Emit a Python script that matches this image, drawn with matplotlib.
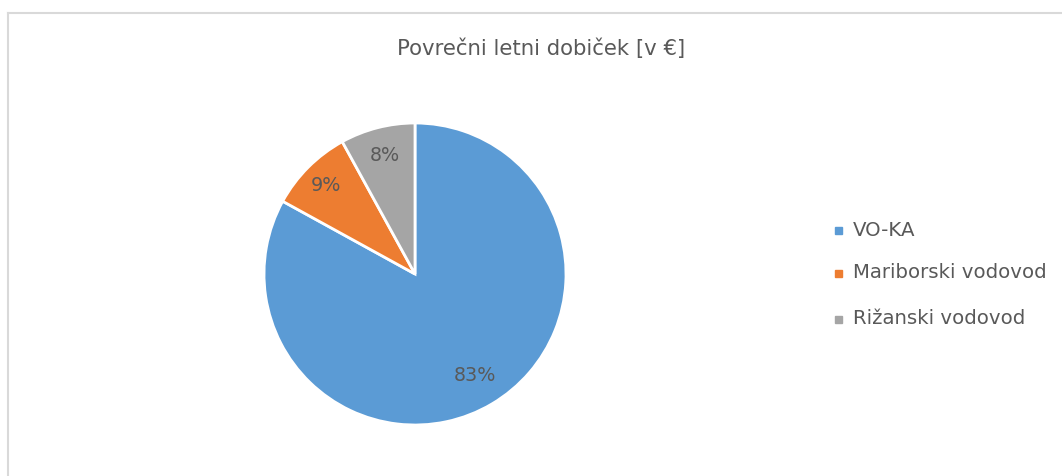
import matplotlib
matplotlib.use("Agg")
import matplotlib.pyplot as plt
import numpy as np
from matplotlib.lines import Line2D

categories = ["VO-KA", "Mariborski vodovod", "Rižanski vodovod"]
values = [83, 9, 8]
colors = ["#5B9BD5", "#ED7D31", "#A5A5A5"]
label_dist = [0.78, 0.83, 0.81]
title = "Povrečni letni dobiček [v €]"
txt_color = "#595959"

W, H = 1062, 476
fig = plt.figure(figsize=(W / 100, H / 100), dpi=100)
fig.patch.set_facecolor("white")

# chart border (left and top visible)
fig.add_artist(Line2D([8 / W, 8 / W], [0, 1 - 13 / H], color="#D9D9D9", lw=1.5))
fig.add_artist(Line2D([8 / W, 1], [1 - 13 / H, 1 - 13 / H], color="#D9D9D9", lw=1.5))

cx, cy, r = 415, 274, 151
ax = fig.add_axes([(cx - r) / W, (H - cy - r) / H, 2 * r / W, 2 * r / H])
wedges, _ = ax.pie(values, colors=colors, startangle=90, counterclock=False,
                   wedgeprops=dict(edgecolor="white", linewidth=2), radius=1.0)
ax.set_xlim(-1, 1)
ax.set_ylim(-1, 1)
ax.set_aspect("equal")
ax.axis("off")

total = sum(values)
for w, v, d in zip(wedges, values, label_dist):
    ang = np.deg2rad((w.theta1 + w.theta2) / 2)
    ax.text(d * np.cos(ang), d * np.sin(ang), f"{round(v / total * 100)}%",
            ha="center", va="center", fontsize=13.8, color=txt_color,
            family="DejaVu Sans")

fig.text(541 / W, 1 - 49 / H, title, ha="center", va="center", fontsize=15.3,
         color=txt_color, family="DejaVu Sans")

ys = [230, 273, 319]
for c, name, y in zip(colors, categories, ys):
    fig.add_artist(plt.Rectangle((835 / W, 1 - (y + 4) / H), 7 / W, 7 / H,
                                 color=c, transform=fig.transFigure))
    fig.text(853 / W, 1 - y / H, name, ha="left", va="center", fontsize=14.2,
             color=txt_color, family="DejaVu Sans")

fig.savefig("out.png", dpi=100, facecolor="white")
